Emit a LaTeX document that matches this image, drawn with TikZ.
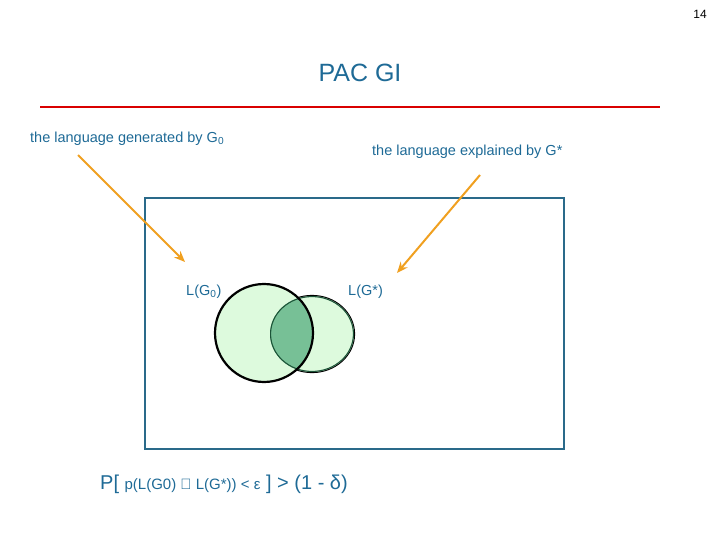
\documentclass[tikz,border=0pt]{standalone}
\usepackage{fontspec}
\setmainfont{Liberation Sans}
\usetikzlibrary{arrows.meta}
\definecolor{ttl}{HTML}{1E6A96}
\definecolor{box}{HTML}{2A6A8A}
\definecolor{org}{HTML}{F0A020}
\definecolor{dk}{HTML}{339966}
\definecolor{lt}{HTML}{DDFADD}
\begin{document}
\begin{tikzpicture}[x=1pt,y=-1pt,
  lbl/.style={inner sep=0pt,anchor=west,font=\fontsize{14.5}{17}\selectfont},
  arr/.style={org,line width=2pt,-{Stealth[length=11pt,width=9pt]}}]
\useasboundingbox (0,0) rectangle (720,540);
\node[font=\fontsize{12}{14}\selectfont\rmfamily] (pg) at (700,14) {14};
\node[ttl,font=\fontsize{25}{28}\selectfont] (t) at (360,73) {PAC GI};
\draw[red!85!black,line width=2.2pt] (40,107) -- (660,107);
\node[lbl,ttl] (a) at (30,139) {the language generated by G\textsubscript{0}};
\node[lbl,ttl] (b) at (372,152) {the language explained by G*};
\draw[box,line width=1.8pt] (145,198) rectangle (564,449);
\coordinate (a1) at (78,155); \coordinate (a2) at (185,262);
\coordinate (b1) at (480,175); \coordinate (b2) at (397,273);
\draw[arr] (a1) -- (a2);
\draw[arr] (b1) -- (b2);
\node[lbl,ttl] (l0) at (186,292) {L(G\textsubscript{0})};
\node[lbl,ttl] (ls) at (348,292) {L(G*)};
\draw[fill=dk,line width=2.2pt] (312,334) ellipse [x radius=42,y radius=38];
\fill[lt,opacity=0.45] (264,333) circle (49);
\fill[lt,even odd rule] (264,333) circle (49) (312,334) ellipse [x radius=42,y radius=38];
\fill[lt] (264,333) circle (49);
\begin{scope}
\clip (312,334) ellipse [x radius=42,y radius=38];
\fill[dk!60!lt] (264,333) circle (49);
\draw[black!45!dk,line width=2.2pt] (312,334) ellipse [x radius=42,y radius=38];
\end{scope}
\draw[line width=2.2pt] (264,333) circle (49);
\node[lbl,ttl,font=\fontsize{20}{24}\selectfont] (f) at (100,484) {P[ {\fontsize{15}{18}\selectfont p(L(G0) ⊕ L(G*)) < ε} ] > (1 - δ)};
\end{tikzpicture}
\end{document}
